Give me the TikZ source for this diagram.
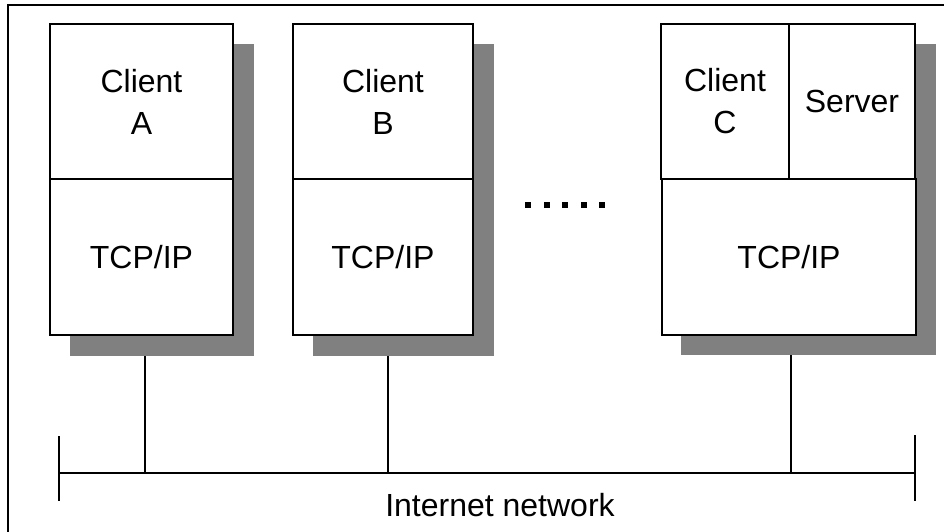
\documentclass[tikz,border=0pt]{standalone}
\usepackage{fontspec}
\setmainfont{Liberation Sans}
\usetikzlibrary{positioning,calc,backgrounds}

\tikzset{
  part/.style={draw, line width=1.5pt, fill=white, inner sep=0pt, outer sep=0pt,
    align=center, font=\fontsize{24}{31.5}\selectfont},
  shade/.style={fill=gray},
  wire/.style={line width=1.5pt},
  dotbox/.style={fill=black, inner sep=0pt, minimum size=4.5pt}
}

\begin{document}
\begin{tikzpicture}[x=0.75pt,y=-0.75pt]
\useasboundingbox (0,0) rectangle (944,531);
\draw[line width=1pt] (8,5) rectangle (960,545);

% host A
\node[part, minimum width=137.25pt, minimum height=116.25pt] (cliA) at (141.5,101.5) {Client\\A};
\node[part, minimum width=137.25pt, minimum height=117pt, below=0pt of cliA] (tcpA) {TCP/IP};
% host B
\node[part, minimum width=135pt, minimum height=116.25pt] (cliB) at (383,101.5) {Client\\B};
\node[part, minimum width=135pt, minimum height=117pt, below=0pt of cliB] (tcpB) {TCP/IP};
% host C
\node[part, minimum width=96pt, minimum height=116.25pt] (cliC) at (725,101.5) {Client\\C};
\node[part, minimum width=94.5pt, minimum height=116.25pt, right=0pt of cliC] (srvC) {Server};
\node[part, minimum width=190.5pt, minimum height=117pt, below=0pt of cliC.south east] (tcpC) {TCP/IP};

% dots between hosts
\foreach \i in {0,...,4}
  \node[dotbox] (dot\i) at (528+18.5*\i,205) {};

% network
\coordinate (busL) at (59,473);
\coordinate (busR) at (915,473);
\draw[wire] (busL) -- (busR);
\draw[wire] (busL) ++(0,-37) -- ++(0,65);
\draw[wire] (busR) ++(0,-38) -- ++(0,66);
\node[font=\fontsize{24}{29}\selectfont] (net) at (500,505) {Internet network};
\coordinate (tapA) at (145,473);
\coordinate (tapB) at (388,473);
\coordinate (tapC) at (791,473);

\begin{pgfonlayer}{background}
\draw[wire] (tapA |- tcpA.south) -- (tapA);
\draw[wire] (tapB |- tcpB.south) -- (tapB);
\draw[wire] (tapC |- tcpC.south) -- (tapC);
\fill[shade] ($(cliA.north west)+(20,20)$) rectangle ($(tcpA.south east)+(21,21)$);
\fill[shade] ($(cliB.north west)+(20,20)$) rectangle ($(tcpB.south east)+(21,21)$);
\fill[shade] ($(cliC.north west)+(20,20)$) rectangle ($(tcpC.south east)+(20,20)$);
\end{pgfonlayer}
\end{tikzpicture}
\end{document}
